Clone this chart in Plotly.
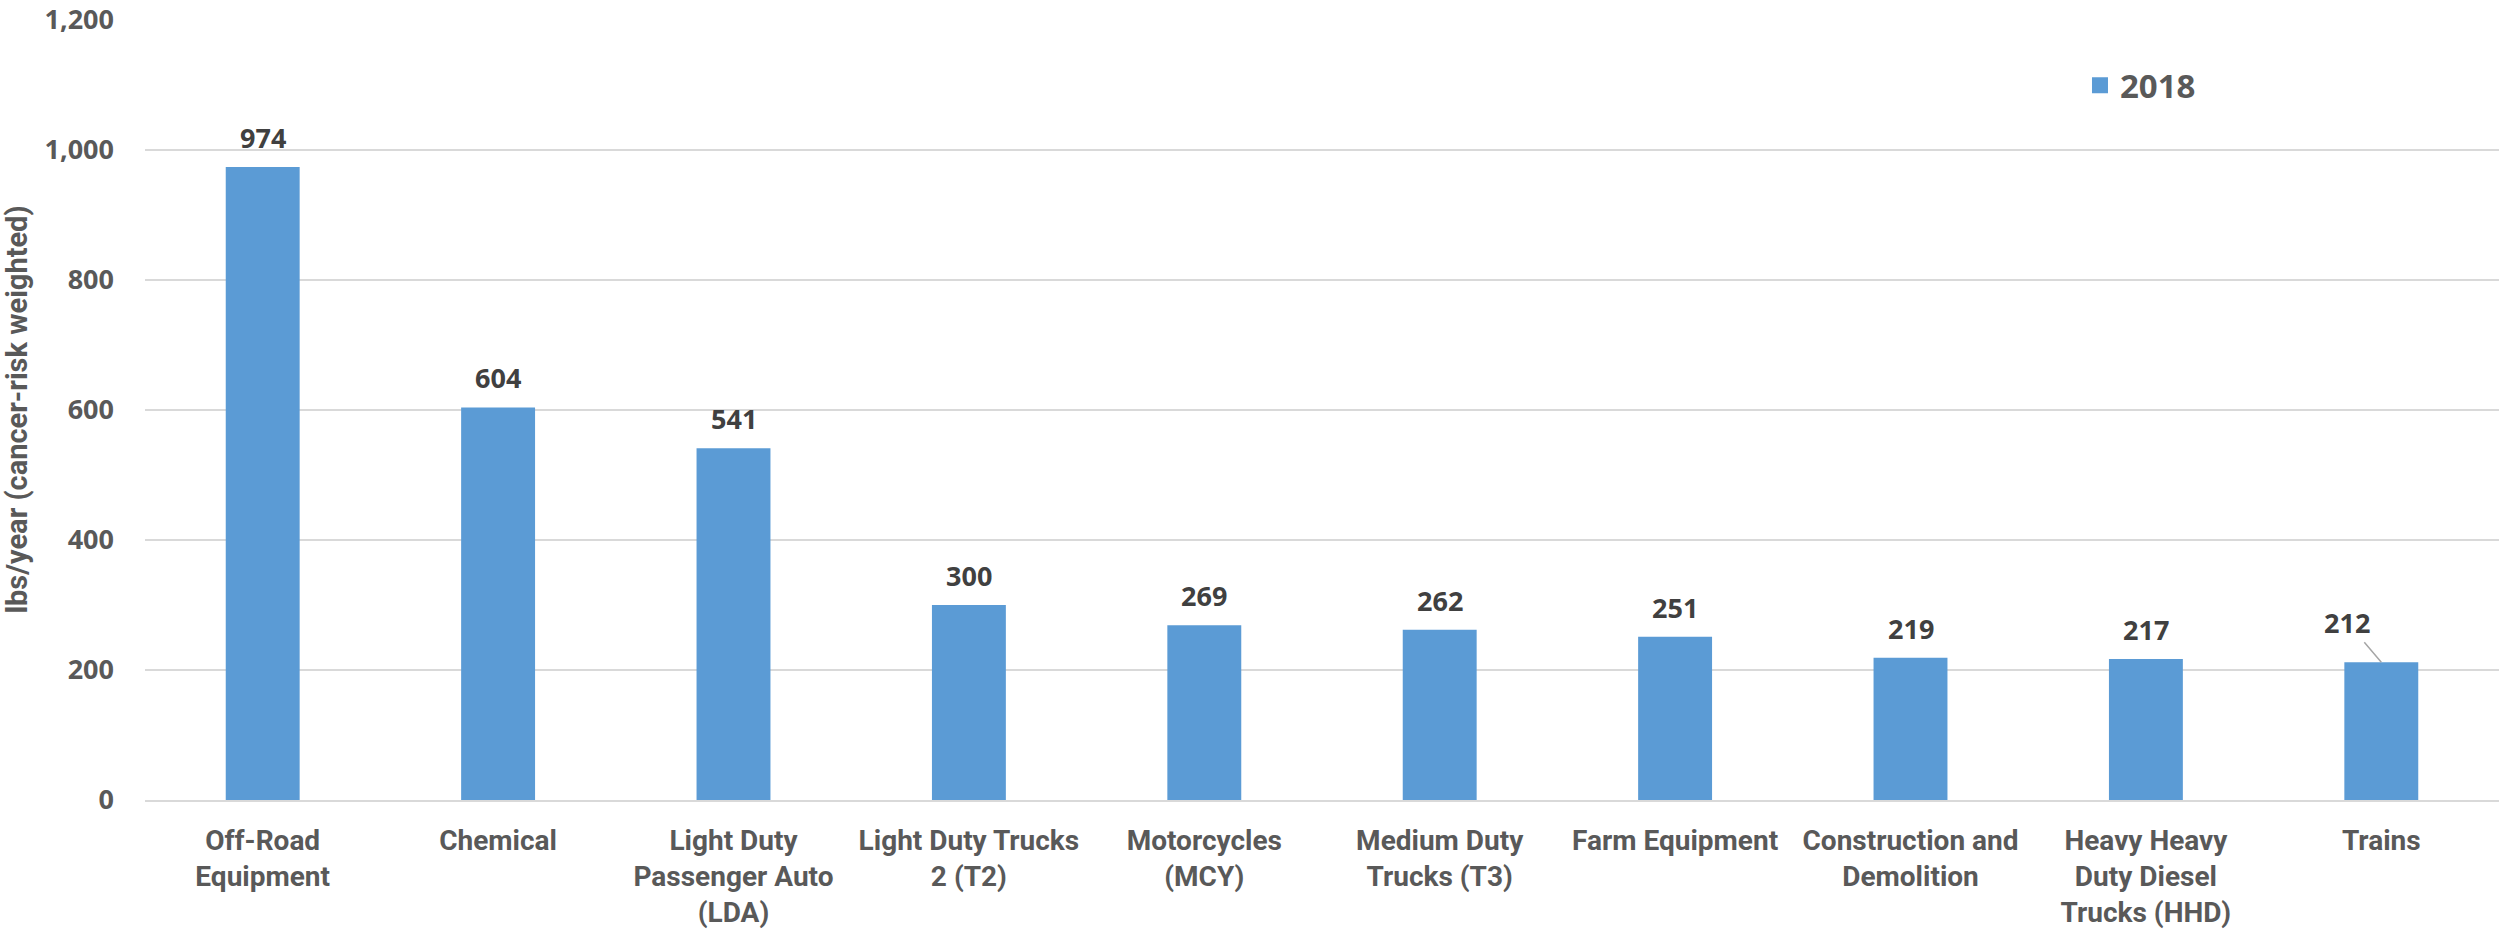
import plotly.graph_objects as go

categories = ["Off-Road Equipment", "Chemical", "Light Duty Passenger Auto (LDA)",
              "Light Duty Trucks 2 (T2)", "Motorcycles (MCY)", "Medium Duty Trucks (T3)",
              "Farm Equipment", "Construction and Demolition",
              "Heavy Heavy Duty Diesel Trucks (HHD)", "Trains"]
tick_labels = ["Off-Road<br>Equipment", "Chemical", "Light Duty<br>Passenger Auto<br>(LDA)",
               "Light Duty Trucks<br>2 (T2)", "Motorcycles<br>(MCY)", "Medium Duty<br>Trucks (T3)",
               "Farm Equipment", "Construction and<br>Demolition",
               "Heavy Heavy<br>Duty Diesel<br>Trucks (HHD)", "Trains"]
values_2018 = [974, 604, 541, 300, 269, 262, 251, 219, 217, 212]
series_name = "2018"
y_ticks = [0, 200, 400, 600, 800, 1000, 1200]

BAR = "#5B9BD5"
GRID = "#D9D9D9"
LABEL_FONT = "Roboto, Liberation Sans, sans-serif"

fig = go.Figure()
fig.add_trace(go.Bar(x=categories, y=values_2018, marker=dict(color=BAR, line=dict(width=0)),
                     showlegend=False, hoverinfo="x+y"))
# legend proxy (bigger square symbol like the reference)
fig.add_trace(go.Scatter(x=[None], y=[None], mode="markers", name=series_name,
                         marker=dict(symbol="square", size=21, color=BAR)))

dl_font = dict(family="Open Sans", size=27, color="#404040", weight="bold")
annotations = []
for i, (c, v) in enumerate(zip(categories, values_2018)):
    if i == len(categories) - 1:
        annotations.append(dict(x=c, y=v, xref="x", yref="y", text=f"{v:,}",
                                showarrow=True, arrowhead=0, arrowwidth=1.5, arrowcolor="#A6A6A6",
                                ax=-34, ay=-40, font=dl_font))
    else:
        annotations.append(dict(x=c, y=v, xref="x", yref="y", text=f"{v:,}",
                                showarrow=False, yanchor="bottom", yshift=9, font=dl_font))

fig.update_layout(
    width=2499, height=938,
    margin=dict(l=145, r=0, t=19, b=138),
    paper_bgcolor="white", plot_bgcolor="white",
    bargap=0.686,
    annotations=annotations,
    legend=dict(x=0.822, y=0.915, xanchor="left", yanchor="middle",
                font=dict(family="Open Sans", size=33, color="#595959", weight="bold"),
                itemwidth=30, bgcolor="rgba(0,0,0,0)"),
    xaxis=dict(tickvals=categories, ticktext=tick_labels, tickangle=0, automargin=False,
               tickfont=dict(family=LABEL_FONT, size=28, color="#595959", weight="bold"),
               ticklabelstandoff=14,
               showline=True, linecolor=GRID, linewidth=2, ticks="", showgrid=False),
    yaxis=dict(range=[0, 1201.5], tickvals=y_ticks, tickformat=",", automargin=False,
               tickfont=dict(family="Open Sans", size=27, color="#595959", weight="bold"),
               ticklabeloverflow="allow",
               gridcolor=GRID, gridwidth=2, zeroline=False, showline=False, ticks="",
               ticklabelstandoff=30,
               title=dict(text="lbs/year (cancer-risk weighted)", standoff=14,
                          font=dict(family=LABEL_FONT, size=29, color="#595959", weight="bold"))),
)

fig.write_html("out.html")
